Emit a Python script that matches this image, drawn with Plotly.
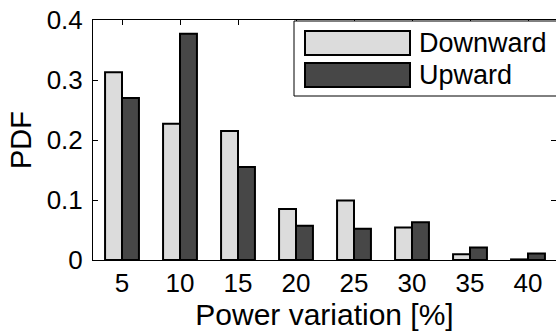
import plotly.graph_objects as go

# Histogram of power variation (bin centres in %)
bins = [5, 10, 15, 20, 25, 30, 35, 40]
downward = [0.313, 0.227, 0.215, 0.085, 0.099, 0.054, 0.0095, 0.001]
upward = [0.270, 0.377, 0.155, 0.057, 0.052, 0.063, 0.021, 0.011]
y_ticks = [0, 0.1, 0.2, 0.3, 0.4]
y_tick_text = ["0", "0.1", "0.2", "0.3", "0.4"]
series_names = ["Downward", "Upward"]

FONT = "Liberation Sans"
LIGHT = "#dcdcdc"
DARK = "#474747"

W, H = 556, 333
L, R, T, B = 93, 0, 20, 73
PW, PH = W - L - R, H - T - B
BAR_W = 1.46


def px(x):
    return (x - L) / PW


def py(y):
    return (H - B - y) / PH


fig = go.Figure()
fig.add_trace(go.Bar(x=bins, y=downward, name=series_names[0], width=BAR_W,
                     offset=-BAR_W, marker=dict(color=LIGHT, line=dict(color="black", width=2)),
                     showlegend=False))
fig.add_trace(go.Bar(x=bins, y=upward, name=series_names[1], width=BAR_W,
                     offset=0, marker=dict(color=DARK, line=dict(color="black", width=2)),
                     showlegend=False))
# invisible trace to carry the mirrored (top / right) tick marks
fig.add_trace(go.Scatter(x=[bins[0]], y=[0], xaxis="x2", yaxis="y2", mode="markers",
                         marker=dict(opacity=0), showlegend=False, hoverinfo="skip"))

xr = [2.5, 2.5 + PW / 11.6]
fig.update_layout(
    width=W, height=H,
    margin=dict(l=L, r=R, t=T, b=B),
    plot_bgcolor="white", paper_bgcolor="white",
    font=dict(family=FONT, color="black", size=26),
    barmode="overlay",
    xaxis=dict(range=xr, tickvals=bins, ticks="inside", ticklen=5, tickcolor="black",
               showline=True, linecolor="black", linewidth=1, showgrid=False, zeroline=False,
               tickfont=dict(size=26), ticklabelstandoff=0,
               title=dict(text="Power variation [%]", font=dict(size=30), standoff=0)),
    yaxis=dict(range=[0, 0.4], tickvals=y_ticks, ticktext=y_tick_text, ticks="inside",
               ticklen=5, tickcolor="black", showline=True, linecolor="black", linewidth=1,
               showgrid=False, zeroline=False, tickfont=dict(size=26), ticklabelstandoff=4,
               title=dict(text="PDF", font=dict(size=29), standoff=6)),
    xaxis2=dict(range=xr, overlaying="x", side="top", tickvals=bins, ticks="inside",
                ticklen=5, tickcolor="black", showticklabels=False, showline=True,
                linecolor="black", linewidth=1, showgrid=False, zeroline=False),
    yaxis2=dict(range=[0, 0.4], overlaying="y", side="right", tickvals=y_ticks,
                ticks="inside", ticklen=5, tickcolor="black", showticklabels=False,
                showline=False, showgrid=False, zeroline=False),
)

# legend box with large swatches
fig.add_shape(type="rect", xref="paper", yref="paper", x0=px(294), x1=px(600),
              y0=py(96), y1=py(21), line=dict(color="black", width=1),
              fillcolor="white", layer="above")
for i, (name, col) in enumerate(zip(series_names, [LIGHT, DARK])):
    top = 31 + i * 32
    fig.add_shape(type="rect", xref="paper", yref="paper", x0=px(305), x1=px(410),
                  y0=py(top + 24), y1=py(top), line=dict(color="black", width=2),
                  fillcolor=col, layer="above")
    fig.add_annotation(xref="paper", yref="paper", x=px(417), y=py(top + 12),
                       text=name, showarrow=False, xanchor="left", yanchor="middle",
                       font=dict(size=27, family=FONT, color="black"))

fig.write_html("out.html")
